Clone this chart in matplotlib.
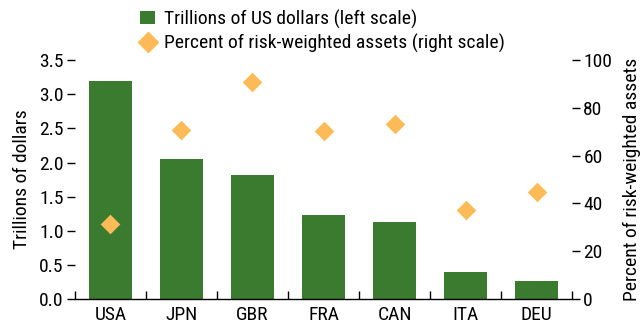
import matplotlib.pyplot as plt
import numpy as np
from matplotlib.lines import Line2D
from matplotlib.patches import Patch

plt.rcParams['font.family'] = ['Roboto Condensed', 'DejaVu Sans']

countries = ['USA', 'JPN', 'GBR', 'FRA', 'CAN', 'ITA', 'DEU']
trillions = [3.19, 2.05, 1.82, 1.23, 1.13, 0.40, 0.26]
pct_rwa = [31.4, 70.7, 90.8, 70.3, 73.2, 37.2, 44.8]

green = '#3a7b2f'
orange = '#fdbb57'
fs = 14

fig = plt.figure(figsize=(6.4, 3.28), dpi=100)
ax = fig.add_axes([0.117, 0.088, 0.777, 0.729])
x = np.arange(len(countries))

ax.bar(x, trillions, width=0.6, color=green, zorder=2)
ax.set_xlim(-0.5, len(countries) - 0.5)
ax.set_ylim(0, 3.5)
ax.set_yticks(np.arange(0, 3.51, 0.5))
ax.set_yticklabels([f'{v:.1f}' for v in np.arange(0, 3.51, 0.5)])
ax.set_ylabel('Trillions of dollars', fontsize=fs, labelpad=6)

ax.set_xticks(x)
ax.set_xticklabels(countries)
ax.set_xticks(np.arange(-0.5, len(countries)), minor=True)
ax.tick_params(axis='x', which='major', length=0, labelsize=fs, pad=5)
ax.tick_params(axis='x', which='minor', direction='in', length=6, width=1)
ax.tick_params(axis='y', direction='out', length=6, width=1, labelsize=fs, pad=2)

for s in ['top', 'right', 'left']:
    ax.spines[s].set_visible(False)
ax.spines['bottom'].set_linewidth(1)

ax2 = ax.twinx()
ax2.scatter(x, pct_rwa, marker='D', s=100, color=orange, zorder=3, linewidths=0)
ax2.set_ylim(0, 100)
ax2.set_yticks(np.arange(0, 101, 20))
ax2.tick_params(axis='y', direction='out', length=6, width=1, labelsize=fs, pad=2)
ax2.set_ylabel('Percent of risk-weighted assets', fontsize=fs, labelpad=8)
for s in ['top', 'right', 'left', 'bottom']:
    ax2.spines[s].set_visible(False)

handles = [
    Patch(facecolor=green, label='Trillions of US dollars (left scale)'),
    Line2D([], [], marker='D', color=orange, linestyle='none', markersize=10,
           label='Percent of risk-weighted assets (right scale)'),
]
fig.legend(handles=handles, loc='upper left', bbox_to_anchor=(0.207, 0.995),
           frameon=False, fontsize=fs, handlelength=0.75, handleheight=0.7,
           handletextpad=0.46, labelspacing=0.25, borderaxespad=0)

fig.savefig('out.png', dpi=100)
